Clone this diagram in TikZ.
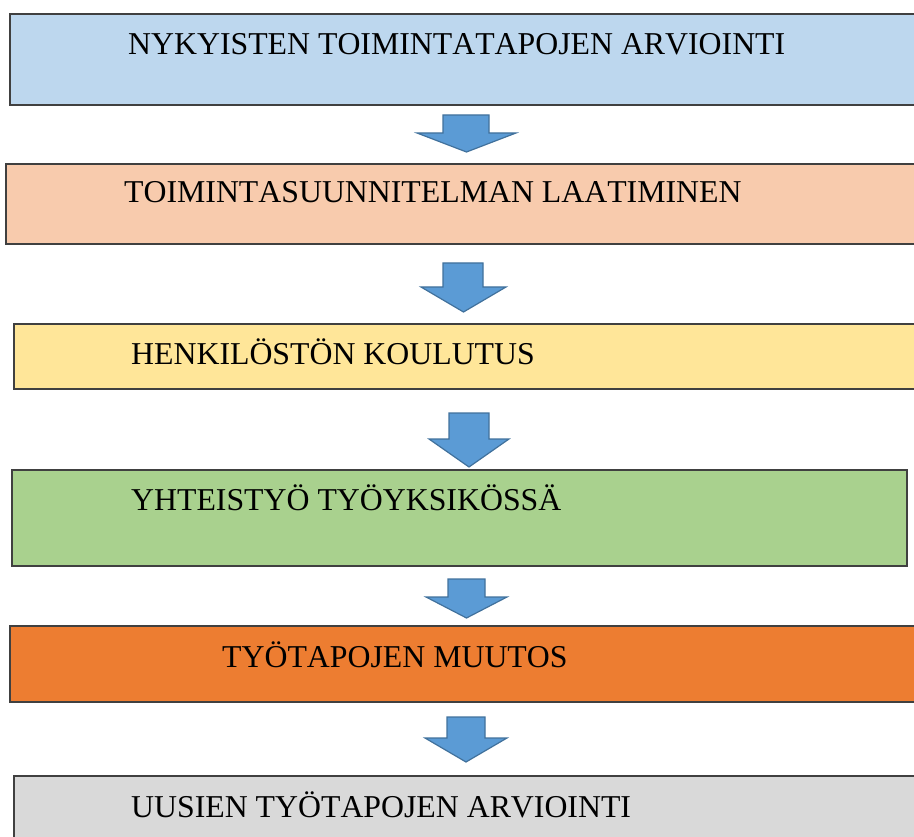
\documentclass[tikz,border=0pt]{standalone}
\usepackage{fontspec}
\setmainfont[Kerning=Off]{Liberation Serif}
\definecolor{cA}{HTML}{BDD7EE}
\definecolor{cB}{HTML}{F8CBAD}
\definecolor{cC}{HTML}{FFE699}
\definecolor{cD}{HTML}{A9D18E}
\definecolor{cE}{HTML}{ED7D31}
\definecolor{cF}{HTML}{D9D9D9}
\definecolor{arrfill}{HTML}{5B9BD5}
\definecolor{arrline}{HTML}{41719C}
\definecolor{boxline}{HTML}{404040}
\tikzset{
  stagebox/.style={draw=boxline, line width=1.5pt, anchor=north west, inner sep=0pt, outer sep=0pt},
  stagetext/.style={anchor=base west, inner sep=0pt, font=\fontsize{31.8}{36}\selectfont},
  blockarrow/.style={fill=arrfill, draw=arrline, line width=1.2pt, line join=miter}
}
\newcommand\blockarr[7]{% shaft left, shaft right, top, head left, head right, head y, tip y
  \path[blockarrow] (#1,#3) -- (#2,#3) -- (#2,#6) -- (#5,#6) -- ({(#4+#5)/2},#7) -- (#4,#6) -- (#1,#6) -- cycle;}
\begin{document}
\begin{tikzpicture}[x=1pt,y=-1pt]
\useasboundingbox (0,0) rectangle (914,837);
\clip (0,0) rectangle (914,837);
\node[stagebox, fill=cA, minimum width=920pt, minimum height=91pt] (b1) at (10,14) {};
\node[stagebox, fill=cB, minimum width=920pt, minimum height=80pt] (b2) at (6,164) {};
\node[stagebox, fill=cC, minimum width=920pt, minimum height=65pt] (b3) at (14,324) {};
\node[stagebox, fill=cD, minimum width=895pt, minimum height=96pt] (b4) at (12,470) {};
\node[stagebox, fill=cE, minimum width=920pt, minimum height=76pt] (b5) at (10,626) {};
\node[stagebox, fill=cF, minimum width=920pt, minimum height=80pt] (b6) at (14,776) {};

\node[stagetext] (t1) at (128,55) {NYKYISTEN TOIMINTATAPOJEN ARVIOINTI};
\node[stagetext] (t2) at (124,203) {TOIMINTASUUNNITELMAN LAATIMINEN};
\node[stagetext] (t3) at (131,365) {HENKILÖSTÖN KOULUTUS};
\node[stagetext] (t4) at (131,510) {YHTEISTYÖ TYÖYKSIKÖSSÄ};
\node[stagetext] (t5) at (222,667) {TYÖTAPOJEN MUUTOS};
\node[stagetext] (t6) at (131,817) {UUSIEN TYÖTAPOJEN ARVIOINTI};

\blockarr{443}{489}{115}{417}{516}{133}{152}
\blockarr{443}{483}{263}{421}{506}{287}{312}
\blockarr{449}{489}{413}{429}{509}{439}{467}
\blockarr{448}{485}{579}{426}{507}{597}{618}
\blockarr{447}{485}{717}{425}{507}{738}{762}
\end{tikzpicture}
\end{document}
